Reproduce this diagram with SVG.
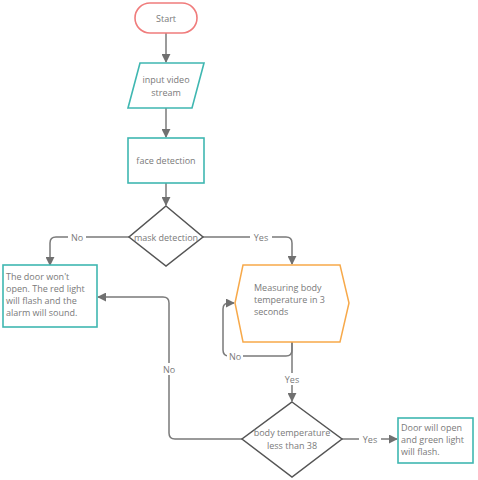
<svg xmlns="http://www.w3.org/2000/svg" width="478" height="480" viewBox="0 0 478 480">
<style>
text{font-family:"Open Sans","Liberation Sans",sans-serif;font-size:9px;fill:#7a7a7a}
.c{text-anchor:middle}
.teal{fill:#fff;stroke:#3fb7b1;stroke-width:1.6}
.dia{fill:#fff;stroke:#555;stroke-width:1.5}
.ln{fill:none;stroke:#7a7a7a;stroke-width:1.5}
.lb{fill:#fff}
</style>
<defs>
<marker id="ar" viewBox="0 0 10 10" refX="9" refY="5" markerWidth="6" markerHeight="6" orient="auto-start-reverse">
<path d="M0,0 L10,5 L0,10 z" fill="#707070"/>
</marker>
</defs>
<rect width="478" height="480" fill="#fff"/>
<g id="connectors">
<path class="ln" d="M166,33 V62" marker-end="url(#ar)"/>
<path class="ln" d="M166,108 V137" marker-end="url(#ar)"/>
<path class="ln" d="M166,183 V205" marker-end="url(#ar)"/>
<path class="ln" d="M129,237 H56 Q50,237 50,243 V265" marker-end="url(#ar)"/>
<path class="ln" d="M203,237 H286 Q292,237 292,243 V264" marker-end="url(#ar)"/>
<path class="ln" d="M292,342 V350 Q292,356 286,356 H229 Q223,356 223,350 V309 Q223,303 229,303 H234" marker-end="url(#ar)"/>
<path class="ln" d="M292,342 V401" marker-end="url(#ar)"/>
<path class="ln" d="M342,439 H397" marker-end="url(#ar)"/>
<path class="ln" d="M242,439 H175 Q169,439 169,433 V303 Q169,297 163,297 H98" marker-end="url(#ar)"/>
<rect class="lb" x="68" y="231" width="18" height="12"/>
<text class="c" x="77" y="240.5">No</text>
<rect class="lb" x="250" y="231" width="22" height="12"/>
<text class="c" x="261" y="240.5">Yes</text>
<rect class="lb" x="227" y="350" width="16" height="12"/>
<text class="c" x="235" y="359.5">No</text>
<rect class="lb" x="281" y="373" width="22" height="12"/>
<text class="c" x="292" y="382.5">Yes</text>
<rect class="lb" x="359" y="433" width="22" height="12"/>
<text class="c" x="370" y="442.5">Yes</text>
<rect class="lb" x="160" y="363" width="18" height="12"/>
<text class="c" x="169" y="372.5">No</text>
</g>
<g id="start">
<rect x="135" y="3" width="62" height="30" rx="15" fill="#fff" stroke="#f07c7c" stroke-width="1.6"/>
<text class="c" x="166" y="21.5">Start</text>
</g>
<g id="input">
<polygon class="teal" points="140,63 204,63 192,108 128,108"/>
<text class="c" x="166" y="83">input video</text>
<text class="c" x="166" y="96">stream</text>
</g>
<g id="face">
<rect class="teal" x="128" y="138" width="76" height="45"/>
<text class="c" x="166" y="164">face detection</text>
</g>
<g id="mask">
<polygon class="dia" points="166,206 203,237 166,266 129,237"/>
<text class="c" x="166" y="240.5">mask detection</text>
</g>
<g id="door-closed">
<rect class="teal" x="3" y="265" width="94" height="62"/>
<text x="6" y="280">The door won't</text>
<text x="6" y="292">open. The red light</text>
<text x="6" y="304">will flash and the</text>
<text x="6" y="316">alarm will sound.</text>
</g>
<g id="measure">
<polygon points="243,265 340,265 349,303 340,342 243,342 235,303" fill="#fff" stroke="#f7a94a" stroke-width="1.5"/>
<text x="254" y="291">Measuring body</text>
<text x="254" y="303">temperature in 3</text>
<text x="254" y="315">seconds</text>
</g>
<g id="temp">
<polygon class="dia" points="292,402 342,439 292,477 242,439"/>
<text class="c" x="292" y="436">body temperature</text>
<text class="c" x="292" y="449">less than 38</text>
</g>
<g id="door-open">
<rect class="teal" x="398" y="418" width="75" height="45"/>
<text x="401" y="431">Door will open</text>
<text x="401" y="443">and green light</text>
<text x="401" y="455">will flash.</text>
</g>
</svg>
